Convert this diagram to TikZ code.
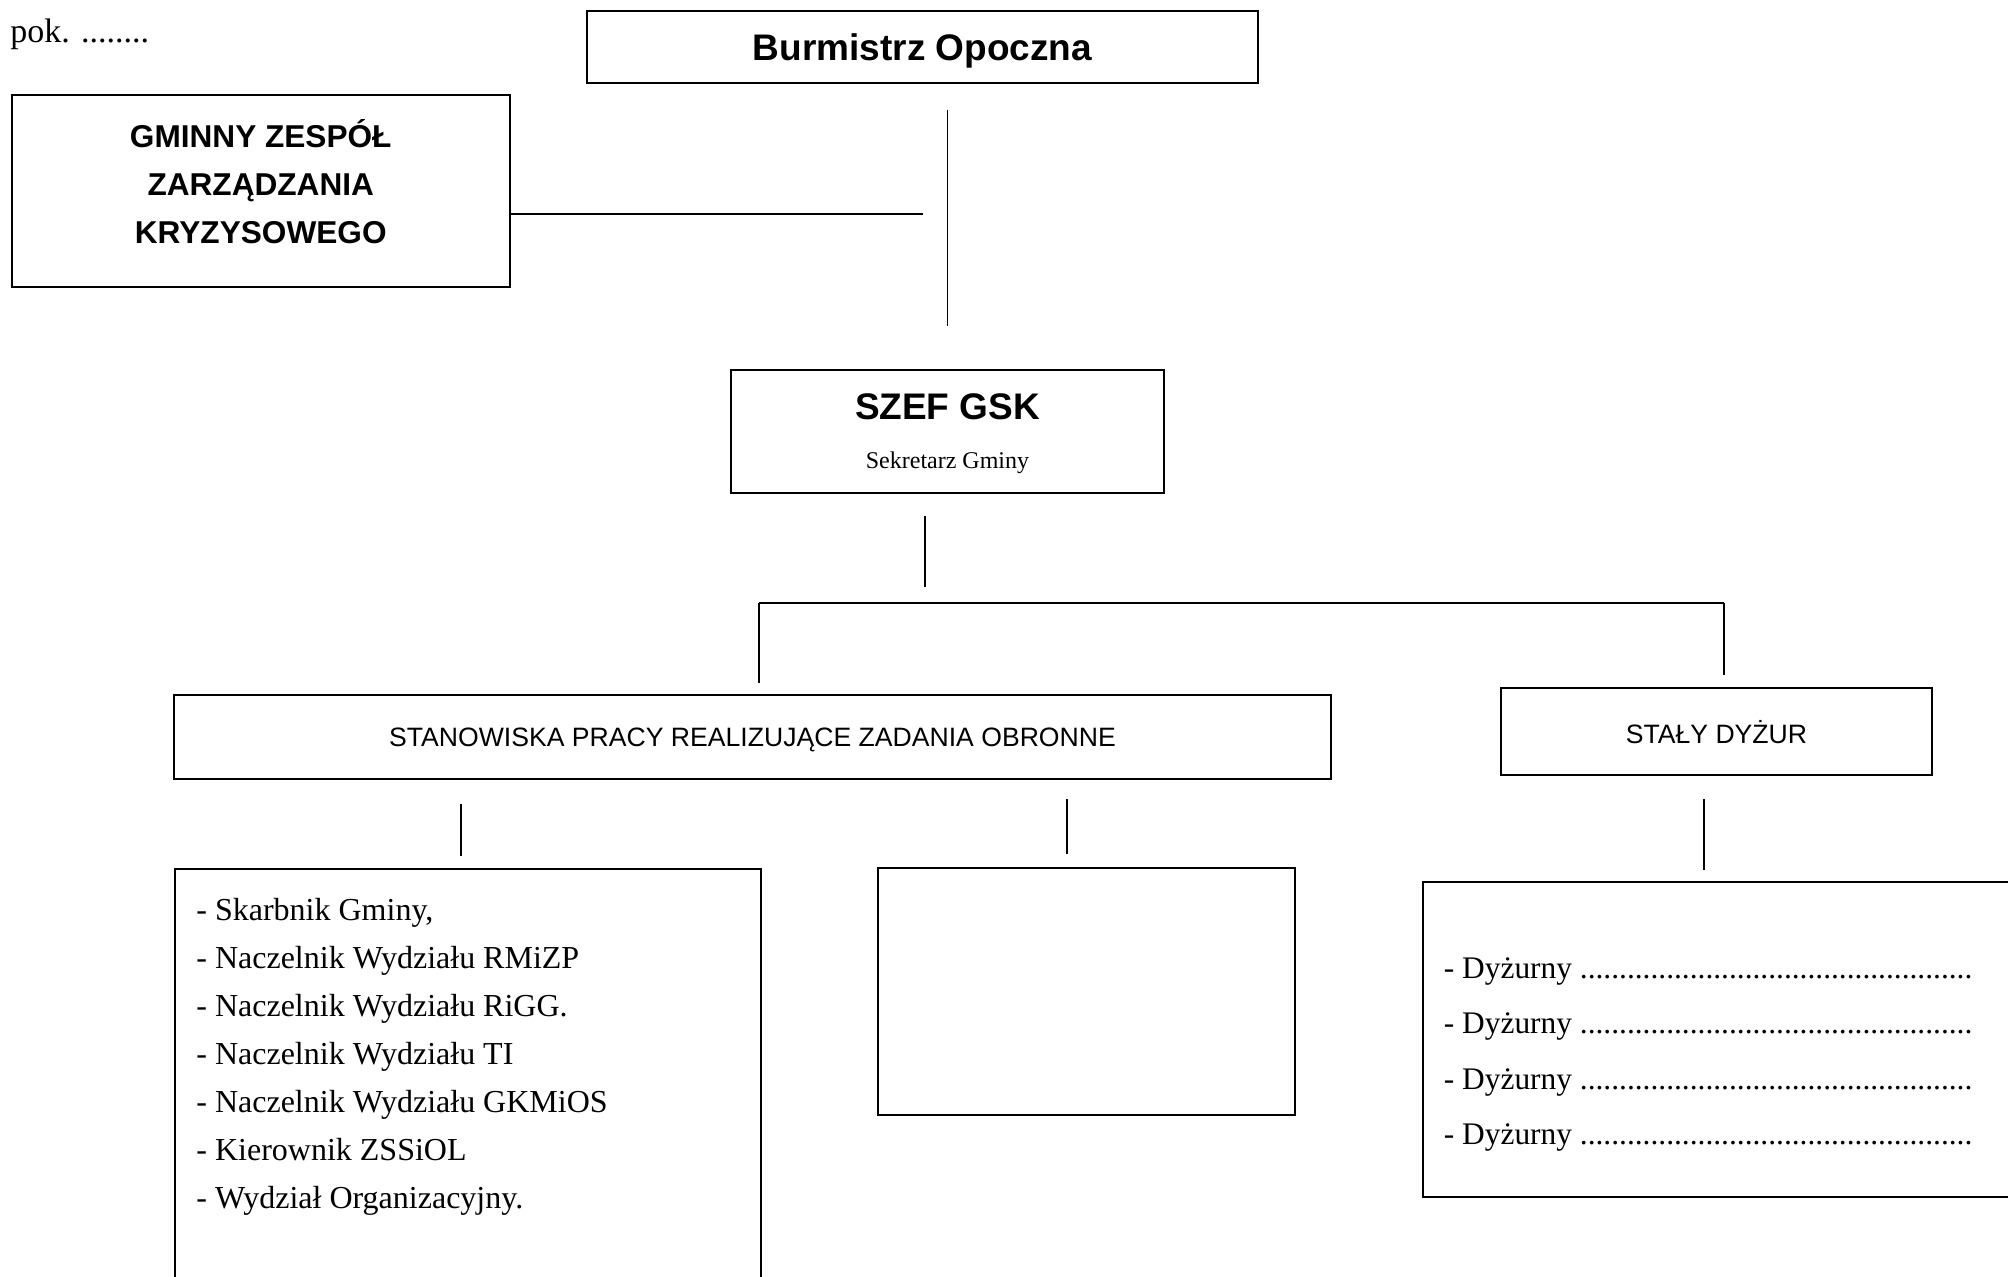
\documentclass[tikz,border=0pt]{standalone}
\usepackage{fontspec}
\setmainfont{Liberation Serif}
\newfontfamily\arialfont{Liberation Sans}
\usetikzlibrary{positioning}

\newcommand{\kropki}{..................................................}

\begin{document}
\begin{tikzpicture}[
    x=0.5pt, y=-0.5pt,
    box/.style={rectangle, draw, line width=1pt, inner sep=0pt},
    titlebox/.style={box, text depth=0pt, font=\arialfont\bfseries\fontsize{18.5}{22}\selectfont},
    capsbox/.style={box, text depth=0pt, font=\arialfont\fontsize{13.3}{16}\selectfont},
    listtext/.style={align=left, inner sep=0pt},
    link/.style={line width=0.8pt}
]
    \useasboundingbox (0,0) rectangle (2008,1276);

    % Top - Burmistrz and crisis team
    \node[anchor=west, inner sep=0pt, font=\fontsize{17}{20}\selectfont] (pok) at (10,34) {pok. ........};
    \node[titlebox, minimum width=335.5pt, minimum height=35.75pt] (burm) at (922.5,47) {Burmistrz Opoczna};
    \node[box, align=center, minimum width=249.25pt, minimum height=96pt, text depth=10pt,
          font=\arialfont\bfseries\fontsize{15.8}{24}\selectfont] (gzzk) at (260.75,191)
        {GMINNY ZESPÓŁ\\ZARZĄDZANIA\\KRYZYSOWEGO};

    % Middle - SZEF GSK
    \node[box, align=center, minimum width=216.5pt, minimum height=61.5pt, text depth=0pt] (szef) at (947.5,431.5)
        {{\arialfont\bfseries\fontsize{18.5}{22}\selectfont SZEF GSK}\\[12.5pt]{\fontsize{12}{14}\selectfont Sekretarz Gminy}};

    % Second row
    \node[capsbox, minimum width=578.5pt, minimum height=42pt] (stan) at (752.5,737) {STANOWISKA PRACY REALIZUJĄCE ZADANIA OBRONNE};
    \node[capsbox, minimum width=215.5pt, minimum height=43.5pt] (staly) at (1716.5,731.5) {STAŁY DYŻUR};

    % Bottom boxes
    \node[box, minimum width=293pt, minimum height=210.5pt] (list) at (468,1079.5) {};
    \node[box, minimum width=208.5pt, minimum height=123.5pt] (mid) at (1086.5,991.5) {};
    \node[box, minimum width=303.5pt, minimum height=157.5pt] (duty) at (1726.5,1039.5) {};

    \node[listtext, font=\fontsize{16}{24}\selectfont, below right=15pt and 11pt of list.north west] (items)
        {- Skarbnik Gminy,\\- Naczelnik Wydziału RMiZP\\- Naczelnik Wydziału RiGG.\\- Naczelnik Wydziału TI\\- Naczelnik Wydziału GKMiOS\\- Kierownik ZSSiOL\\- Wydział Organizacyjny.};
    \node[listtext, font=\fontsize{15.7}{27.75}\selectfont, below right=38pt and 10.75pt of duty.north west] (dyz)
        {- Dyżurny \kropki\\- Dyżurny \kropki\\- Dyżurny \kropki\\- Dyżurny \kropki};

    % Connectors
    \coordinate (gzend) at (923,214);
    \coordinate (tap) at (925,587);
    \coordinate (busL) at (759,603);
    \coordinate (busR) at (1724,603);
    \coordinate (c1) at (461,0);
    \coordinate (c2) at (1067,0);
    \coordinate (c3) at (1704,0);

    \draw[link, shorten <=13pt, shorten >=21.5pt] (burm.south -| szef.north) -- (szef.north);
    \draw[link] (gzzk.east |- gzend) -- (gzend);
    \draw[link, shorten <=11pt] (szef.south -| tap) -- (tap);
    \draw[link] (busL) -- (busR);
    \draw[link, shorten >=5.5pt] (busL) -- (busL |- stan.north);
    \draw[link, shorten >=6pt] (busR) -- (busR |- staly.north);
    \draw[link, shorten <=12pt, shorten >=6pt] (stan.south -| c1) -- (list.north -| c1);
    \draw[link, shorten <=9.5pt, shorten >=6.5pt] (stan.south -| c2) -- (mid.north -| c2);
    \draw[link, shorten <=11.5pt, shorten >=5.5pt] (staly.south -| c3) -- (duty.north -| c3);

\end{tikzpicture}
\end{document}
